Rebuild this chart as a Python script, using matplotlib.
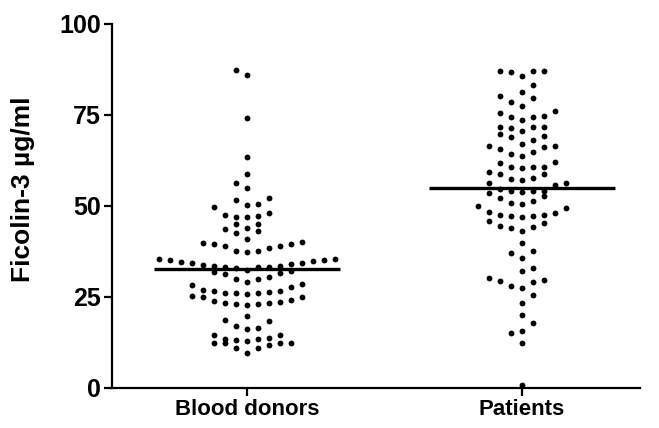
"""Ficolin-3 serum levels: blood donors vs patients, GraphPad-style dot plot."""
import matplotlib
matplotlib.use("Agg")
import matplotlib.pyplot as plt
import numpy as np

# values (ug/ml)
blood_donors = [
    9.7, 11.0, 11.1, 11.8, 12.3, 12.3, 12.4, 12.4,
    12.9, 13.2, 13.4, 13.4, 13.65, 14.6, 14.6,
    16.2, 16.5, 17.0, 18.3, 18.7,
    19.7,
    22.8, 23.1, 23.1, 23.3, 23.3, 23.5, 23.9, 24.3, 24.9, 25.0, 25.2,
    25.9, 26.0, 26.2, 26.2, 26.4, 26.6, 26.7, 26.9, 27.8, 28.2, 28.5,
    29.1, 30.0, 30.0, 30.4, 31.4, 31.6, 31.9, 32.0,
    32.5, 32.9, 33.15, 33.2, 33.3, 33.6, 33.6, 33.8, 34.0, 34.25, 34.25,
    34.5, 35.0, 35.2, 35.2, 35.35, 35.35,
    37.3, 37.6, 37.7, 38.4, 39.1, 39.1, 39.6, 39.6, 39.75, 40.2,
    40.9, 42.5, 43.1, 43.6,
    44.0, 45.1, 45.1,
    47.1, 47.1, 47.3, 47.5, 48.1, 49.6,
    50.3, 50.5, 51.6, 52.1,
    54.9, 56.2, 58.7, 63.5, 74.3, 85.9, 87.4,
]
patients = [
    0.8, 12.3, 15.2, 15.7, 17.9, 20.05, 23.3, 25.6,
    27.4, 28.0, 29.0, 29.4, 29.7, 30.3,
    32.2, 33.0, 35.6, 37.0, 37.6, 39.9,
    43.1, 43.9, 44.1, 44.5, 45.4, 45.9,
    47.1, 47.3, 47.3, 47.5, 47.6, 48.0, 48.3, 49.4, 50.0,
    50.6, 50.7, 51.5, 52.1, 52.7, 53.5,
    53.9, 54.0, 54.1, 54.1, 54.6, 55.8, 56.2, 56.2,
    57.2, 57.4, 57.6, 58.7, 58.7, 59.4,
    60.4, 60.7, 60.7, 60.8, 61.7, 62.2,
    63.7, 64.2, 64.75, 65.6, 66.3, 66.5, 66.6,
    66.95, 68.1, 68.9, 69.3, 69.8,
    70.5, 71.3, 71.8, 71.8, 71.8,
    73.6, 74.5, 74.5, 74.7, 75.6, 76.2,
    77.5, 78.7, 79.6, 80.2,
    81.4, 83.2,
    85.8, 86.7, 87.2, 87.2, 87.2,
]
groups = ["Blood donors", "Patients"]
y_ticks = [0, 25, 50, 75, 100]


def dot_layout(values, center, step=0.04, row_h=3.0):
    """stack values into rows of height row_h, spread each row sideways."""
    vals = np.sort(np.asarray(values, dtype=float))
    xs = np.zeros_like(vals)
    i, row = 0, 0
    while i < len(vals):
        j = i
        while j < len(vals) and vals[j] - vals[i] < row_h:
            j += 1
        sign = 1 if row % 2 == 0 else -1
        for k in range(j - i):
            off = (k + 1) // 2 * (sign if k % 2 == 1 else -sign)
            xs[i + k] = center + off * step
        i = j
        row += 1
    return xs, vals


plt.rcParams["font.family"] = ["Liberation Sans", "DejaVu Sans"]
plt.rcParams["font.weight"] = "bold"

fig = plt.figure(figsize=(6.59, 4.28), dpi=100)
ax = fig.add_axes([0.170, 0.0935, 0.801, 0.8505])

for pos, data in enumerate([blood_donors, patients]):
    xs, ys = dot_layout(data, pos)
    ax.plot(xs, ys, "o", color="black", ms=4.2, mec="none", clip_on=False, zorder=4)
    m = np.mean(data)
    ax.plot([pos - 0.338, pos + 0.338], [m, m], color="black", lw=2.4, solid_capstyle="butt", zorder=3)

ax.set_xlim(-0.491, 1.429)
ax.set_ylim(0, 100)
ax.set_yticks(y_ticks)
ax.set_xticks(range(len(groups)))
ax.set_xticklabels(groups, fontsize=16, fontweight="bold")
ax.set_yticklabels([str(t) for t in y_ticks], fontsize=18, fontweight="bold")
ax.set_ylabel("Ficolin-3 µg/ml", fontsize=19, fontweight="bold")
ax.yaxis.set_label_coords(-0.146, 0.545)

for side in ["top", "right"]:
    ax.spines[side].set_visible(False)
for side in ["left", "bottom"]:
    ax.spines[side].set_linewidth(1.6)
ax.tick_params(direction="out", length=6, width=1.6, pad=2)

fig.savefig("out.png", dpi=100, facecolor="white")
